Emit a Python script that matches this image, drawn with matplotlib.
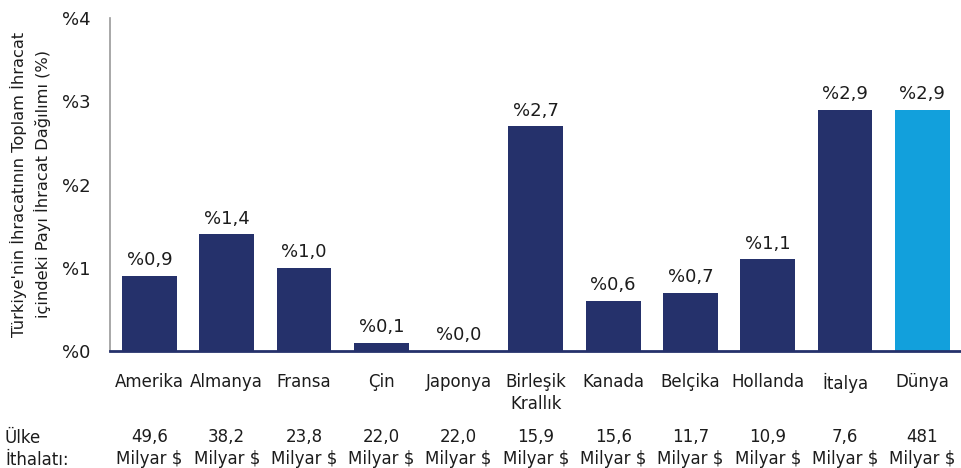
import numpy as np
import matplotlib
matplotlib.use("Agg")
import matplotlib.pyplot as plt
from matplotlib.transforms import blended_transform_factory

plt.rcParams['font.family'] = ['DejaVu Sans']

countries = ['Amerika', 'Almanya', 'Fransa', 'Çin', 'Japonya', 'Birleşik\nKrallık',
             'Kanada', 'Belçika', 'Hollanda', 'İtalya', 'Dünya']
shares = [0.9, 1.4, 1.0, 0.1, 0.0, 2.7, 0.6, 0.7, 1.1, 2.9, 2.9]
imports = ['49,6', '38,2', '23,8', '22,0', '22,0', '15,9', '15,6', '11,7', '10,9', '7,6', '481']
yticks = [0, 1, 2, 3, 4]

navy = '#25316b'
light = '#12a0dc'
text_c = '#1c1c1c'

fig = plt.figure(figsize=(9.61, 4.68), dpi=100)
ax = fig.add_axes([110 / 961, 1 - 351 / 468, 1 - 110 / 961, (351 - 18) / 468])

x = np.arange(len(countries))
colors = [navy] * (len(countries) - 1) + [light]
bars = ax.bar(x, shares, width=0.71, color=colors, zorder=2)

for xi, v in zip(x, shares):
    ax.text(xi, v + 0.08, '%' + f'{v:.1f}'.replace('.', ','), ha='center', va='bottom',
            fontsize=13, color=text_c)

ax.set_xlim(-0.51, 10.5)
ax.set_ylim(0, 4)
ax.set_yticks(yticks)
ax.set_yticklabels(['%' + str(t) for t in yticks], fontsize=13, color=text_c)
ax.set_xticks(x)
ax.set_xticklabels(countries, fontsize=12, color=text_c, linespacing=1.3)
ax.tick_params(axis='both', length=0)
ax.tick_params(axis='x', pad=16)
ax.tick_params(axis='y', pad=14)

for s in ['top', 'right']:
    ax.spines[s].set_visible(False)
ax.spines['left'].set_color('#999999')
ax.spines['left'].set_linewidth(1.2)
ax.spines['bottom'].set_color(navy)
ax.spines['bottom'].set_linewidth(2)

ax.set_ylabel("Türkiye'nin İhracatının Toplam İhracat\niçindeki Payı İhracat Dağılımı (%)",
              fontsize=11.7, color=text_c, linespacing=1.5, labelpad=8)

tr = blended_transform_factory(ax.transData, fig.transFigure)
for xi, val in zip(x, imports):
    ax.text(xi, 1 - 437 / 468, val, transform=tr, ha='center', va='center',
            fontsize=12, color=text_c)
    ax.text(xi, 1 - 459 / 468, 'Milyar $', transform=tr, ha='center', va='center',
            fontsize=12, color=text_c)

fig.text(5 / 961, 1 - 449 / 468, 'Ülke\nİthalatı:', ha='left', va='center',
         fontsize=12, color=text_c, linespacing=1.25)

fig.savefig('out.png', dpi=100)
